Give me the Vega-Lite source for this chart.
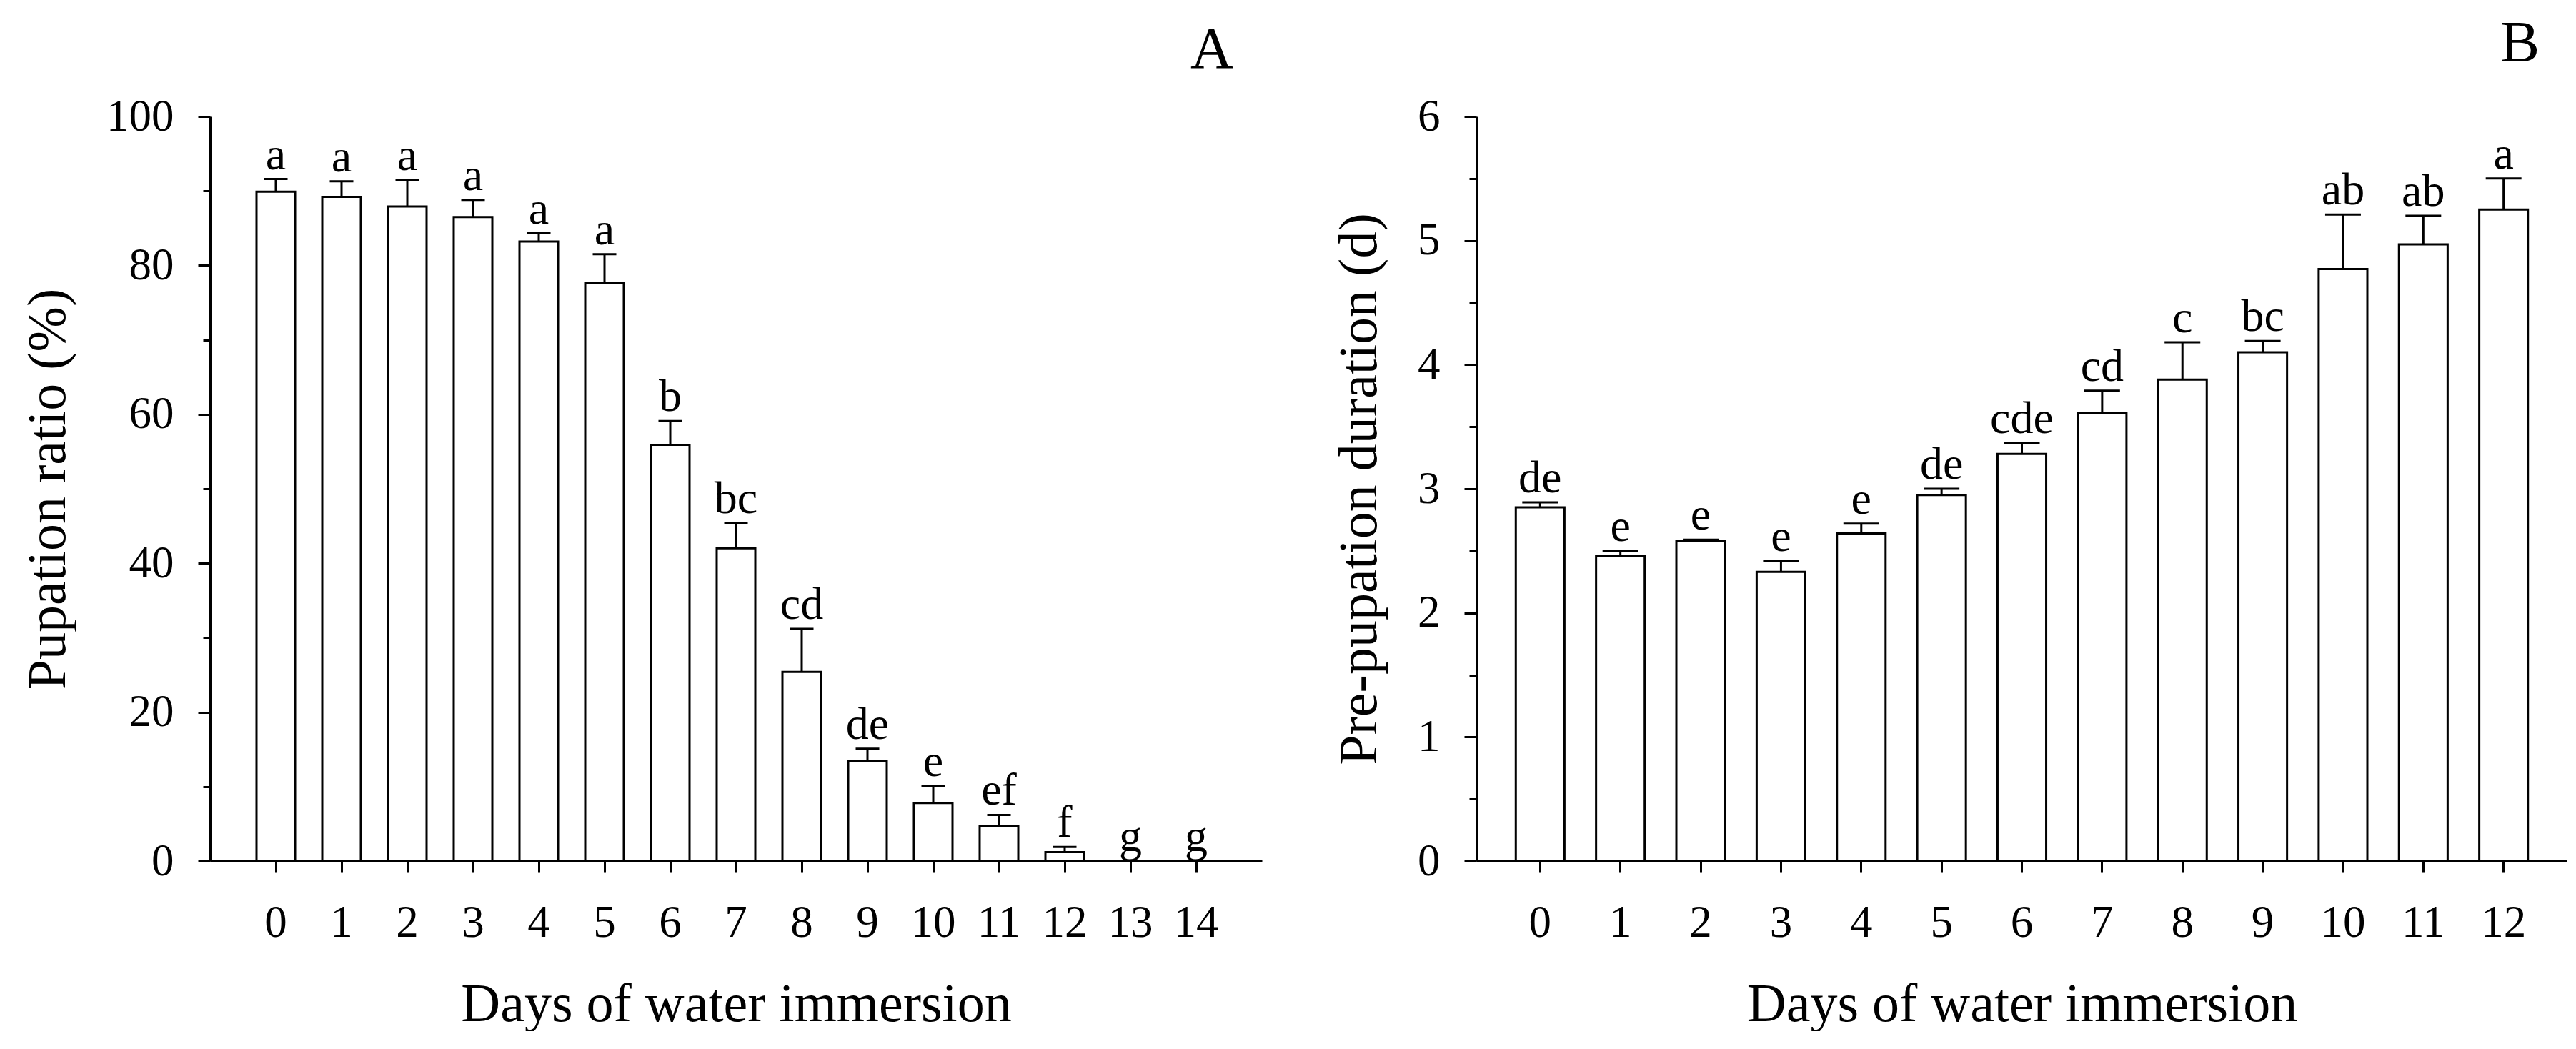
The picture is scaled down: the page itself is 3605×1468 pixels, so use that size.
{
  "$schema": "https://vega.github.io/schema/vega-lite/v6.json",
  "background": "white",
  "padding": {"left": 29, "top": 20, "right": 0, "bottom": 0},
  "autosize": {"type": "pad"},
  "spacing": 98,
  "datasets": {
    "pupation": [
      {"day": 0, "mean": 89.9, "upper": 91.6, "letter": "a"},
      {"day": 1, "mean": 89.2, "upper": 91.3, "letter": "a"},
      {"day": 2, "mean": 87.9, "upper": 91.5, "letter": "a"},
      {"day": 3, "mean": 86.5, "upper": 88.8, "letter": "a"},
      {"day": 4, "mean": 83.2, "upper": 84.3, "letter": "a"},
      {"day": 5, "mean": 77.6, "upper": 81.5, "letter": "a"},
      {"day": 6, "mean": 55.9, "upper": 59.1, "letter": "b"},
      {"day": 7, "mean": 42.0, "upper": 45.4, "letter": "bc"},
      {"day": 8, "mean": 25.4, "upper": 31.2, "letter": "cd"},
      {"day": 9, "mean": 13.4, "upper": 15.1, "letter": "de"},
      {"day": 10, "mean": 7.8, "upper": 10.1, "letter": "e"},
      {"day": 11, "mean": 4.7, "upper": 6.2, "letter": "ef"},
      {"day": 12, "mean": 1.2, "upper": 1.9, "letter": "f"},
      {"day": 13, "mean": 0, "upper": 0, "letter": "g"},
      {"day": 14, "mean": 0, "upper": 0, "letter": "g"}
    ],
    "duration": [
      {"day": 0, "mean": 2.85, "upper": 2.89, "letter": "de"},
      {"day": 1, "mean": 2.46, "upper": 2.50, "letter": "e"},
      {"day": 2, "mean": 2.58, "upper": 2.59, "letter": "e"},
      {"day": 3, "mean": 2.33, "upper": 2.42, "letter": "e"},
      {"day": 4, "mean": 2.64, "upper": 2.72, "letter": "e"},
      {"day": 5, "mean": 2.95, "upper": 3.00, "letter": "de"},
      {"day": 6, "mean": 3.28, "upper": 3.37, "letter": "cde"},
      {"day": 7, "mean": 3.61, "upper": 3.79, "letter": "cd"},
      {"day": 8, "mean": 3.88, "upper": 4.18, "letter": "c"},
      {"day": 9, "mean": 4.10, "upper": 4.19, "letter": "bc"},
      {"day": 10, "mean": 4.77, "upper": 5.21, "letter": "ab"},
      {"day": 11, "mean": 4.97, "upper": 5.20, "letter": "ab"},
      {"day": 12, "mean": 5.25, "upper": 5.50, "letter": "a"}
    ]
  },
  "config": {
    "view": {"stroke": null},
    "font": "Liberation Serif",
    "axis": {
      "grid": false,
      "domainColor": "black",
      "domainWidth": 3,
      "tickColor": "black",
      "tickWidth": 3,
      "labelFont": "Liberation Serif",
      "labelFontSize": 63,
      "labelColor": "black",
      "labelOverlap": false,
      "labelFlush": false,
      "titleFont": "Liberation Serif",
      "titleFontSize": 76,
      "titleFontWeight": "normal",
      "titleColor": "black"
    },
    "title": {"font": "Liberation Serif", "fontSize": 83, "fontWeight": "normal", "color": "black", "anchor": "end"}
  },
  "hconcat": [
    {
      "width": 1472,
      "height": 1042,
      "title": {"text": "A", "dx": -40, "offset": 20},
      "data": {"name": "pupation"},
      "encoding": {
        "x": {
          "field": "day",
          "type": "ordinal",
          "scale": {"paddingInner": 0.413, "paddingOuter": 0.7065},
          "axis": {"title": "Days of water immersion", "labelAngle": 0, "tickSize": 16, "labelPadding": 39, "titlePadding": 45}
        }
      },
      "layer": [
        {
          "mark": {"type": "rule", "color": "black", "strokeWidth": 3},
          "encoding": {
            "y": {
              "field": "mean",
              "type": "quantitative",
              "scale": {"domain": [0, 100], "nice": false},
              "axis": {
                "title": "Pupation ratio (%)",
                "values": [0, 10, 20, 30, 40, 50, 60, 70, 80, 90, 100],
                "labelExpr": "datum.value % 20 === 0 ? datum.label : ''",
                "tickSize": {"condition": {"test": "datum.value % 20 === 0", "value": 17}, "value": 10},
                "labelPadding": 34,
                "titlePadding": 42
              }
            },
            "y2": {"field": "upper"}
          }
        },
        {
          "mark": {"type": "bar", "fill": "white", "stroke": "black", "strokeWidth": 3},
          "encoding": {"y": {"field": "mean", "type": "quantitative"}}
        },
        {
          "mark": {"type": "tick", "color": "black", "opacity": 1, "orient": "horizontal", "size": 33, "thickness": 3},
          "encoding": {"y": {"field": "upper", "type": "quantitative"}}
        },
        {
          "mark": {"type": "text", "color": "black", "fontSize": 64, "baseline": "alphabetic", "dy": -14},
          "encoding": {
            "y": {"field": "upper", "type": "quantitative"},
            "text": {"field": "letter"}
          }
        }
      ]
    },
    {
      "width": 1527,
      "height": 1042,
      "title": {"text": "B", "dx": -39, "offset": 29},
      "data": {"name": "duration"},
      "encoding": {
        "x": {
          "field": "day",
          "type": "ordinal",
          "scale": {"paddingInner": 0.394, "paddingOuter": 0.492},
          "axis": {"title": "Days of water immersion", "labelAngle": 0, "tickSize": 16, "labelPadding": 39, "titlePadding": 45}
        }
      },
      "layer": [
        {
          "mark": {"type": "rule", "color": "black", "strokeWidth": 3},
          "encoding": {
            "y": {
              "field": "mean",
              "type": "quantitative",
              "scale": {"domain": [0, 6], "nice": false},
              "axis": {
                "title": "Pre-pupation duration (d)",
                "values": [0, 0.5, 1, 1.5, 2, 2.5, 3, 3.5, 4, 4.5, 5, 5.5, 6],
                "labelExpr": "datum.value % 1 === 0 ? format(datum.value, 'd') : ''",
                "tickSize": {"condition": {"test": "datum.value % 1 === 0", "value": 17}, "value": 10},
                "labelPadding": 34,
                "titlePadding": 42
              }
            },
            "y2": {"field": "upper"}
          }
        },
        {
          "mark": {"type": "bar", "fill": "white", "stroke": "black", "strokeWidth": 3},
          "encoding": {"y": {"field": "mean", "type": "quantitative"}}
        },
        {
          "mark": {"type": "tick", "color": "black", "opacity": 1, "orient": "horizontal", "size": 50, "thickness": 3},
          "encoding": {"y": {"field": "upper", "type": "quantitative"}}
        },
        {
          "mark": {"type": "text", "color": "black", "fontSize": 64, "baseline": "alphabetic", "dy": -14},
          "encoding": {
            "y": {"field": "upper", "type": "quantitative"},
            "text": {"field": "letter"}
          }
        }
      ]
    }
  ]
}
